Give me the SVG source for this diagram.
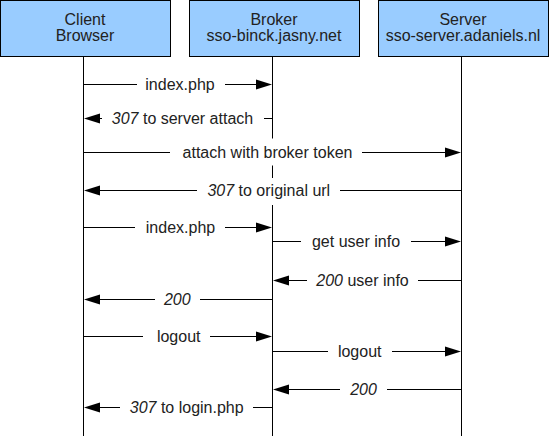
<svg xmlns="http://www.w3.org/2000/svg" width="549" height="436" viewBox="0 0 549 436">
<style>
.box{fill:#99ccff;stroke:#000;stroke-width:1}
.life{stroke:#000;stroke-width:1;fill:none}
.msg{stroke:#000;stroke-width:1;fill:none}
.bg{fill:#fff}
.head{font-family:"Liberation Sans",Arial,sans-serif;font-size:16px;fill:#222;text-anchor:middle}
.lbl{font-family:"Liberation Sans",Arial,sans-serif;font-size:16px;fill:#222;text-anchor:middle}
.num{font-style:italic}
.ah{fill:#000}
</style>
<rect width="549" height="436" fill="#fff"/>
<g id="lifelines">
<line class="life" x1="83.5" y1="57" x2="83.5" y2="436"/>
<line class="life" x1="272.5" y1="57" x2="272.5" y2="436"/>
<line class="life" x1="461.5" y1="57" x2="461.5" y2="436"/>
</g>
<g id="client">
<rect class="box" x="0.5" y="0.5" width="170" height="56"/>
<text class="head" x="85" y="25">Client</text>
<text class="head" x="85" y="41">Browser</text>
</g>
<g id="broker">
<rect class="box" x="189.5" y="0.5" width="170" height="56"/>
<text class="head" x="274" y="25">Broker</text>
<text class="head" x="274" y="41">sso-binck.jasny.net</text>
</g>
<g id="server">
<rect class="box" x="378.5" y="0.5" width="170" height="56"/>
<text class="head" x="463" y="25">Server</text>
<text class="head" x="463" y="41">sso-server.adaniels.nl</text>
</g>
<g id="connectors">
<!-- 1 index.php C->B -->
<line class="msg" x1="83.5" y1="84.5" x2="257" y2="84.5"/>
<polygon class="ah" points="272,84.5 256,79.5 256,89.5"/>
<rect class="bg" x="137" y="71" width="88" height="27"/>
<text class="lbl" x="180" y="90">index.php</text>
<!-- 2 307 to server attach B->C -->
<line class="msg" x1="99" y1="118.5" x2="272.5" y2="118.5"/>
<polygon class="ah" points="84,118.5 100,113.5 100,123.5"/>
<rect class="bg" x="102" y="105" width="162" height="27"/>
<text class="lbl" x="182.5" y="124"><tspan class="num">307</tspan> to server attach</text>
<!-- 3 attach with broker token C->S -->
<line class="msg" x1="83.5" y1="152.5" x2="446" y2="152.5"/>
<polygon class="ah" points="461,152.5 445,147.5 445,157.5"/>
<rect class="bg" x="170" y="138.5" width="192" height="27"/>
<text class="lbl" x="267.5" y="158">attach with broker token</text>
<!-- 4 307 to original url S->C -->
<line class="msg" x1="99" y1="190.5" x2="461.5" y2="190.5"/>
<polygon class="ah" points="84,190.5 100,185.5 100,195.5"/>
<rect class="bg" x="197" y="178" width="143" height="27"/>
<text class="lbl" x="268.8" y="196"><tspan class="num">307</tspan> to original url</text>
<!-- 5 index.php C->B -->
<line class="msg" x1="83.5" y1="227.5" x2="257" y2="227.5"/>
<polygon class="ah" points="272,227.5 256,222.5 256,232.5"/>
<rect class="bg" x="135" y="214" width="90" height="27"/>
<text class="lbl" x="180.5" y="233">index.php</text>
<!-- 6 get user info B->S -->
<line class="msg" x1="272.5" y1="241.5" x2="446" y2="241.5"/>
<polygon class="ah" points="461,241.5 445,236.5 445,246.5"/>
<rect class="bg" x="301" y="228" width="110" height="27"/>
<text class="lbl" x="356" y="247">get user info</text>
<!-- 7 200 user info S->B -->
<line class="msg" x1="288" y1="280.5" x2="461.5" y2="280.5"/>
<polygon class="ah" points="273,280.5 289,275.5 289,285.5"/>
<rect class="bg" x="307" y="267" width="111" height="27"/>
<text class="lbl" x="362.5" y="286"><tspan class="num">200</tspan> user info</text>
<!-- 8 200 B->C -->
<line class="msg" x1="99" y1="299.5" x2="272.5" y2="299.5"/>
<polygon class="ah" points="84,299.5 100,294.5 100,304.5"/>
<rect class="bg" x="155" y="286" width="45" height="27"/>
<text class="lbl num" x="177.3" y="305">200</text>
<!-- 9 logout C->B -->
<line class="msg" x1="83.5" y1="336.5" x2="257" y2="336.5"/>
<polygon class="ah" points="272,336.5 256,331.5 256,341.5"/>
<rect class="bg" x="143" y="323" width="67" height="27"/>
<text class="lbl" x="178.7" y="342">logout</text>
<!-- 10 logout B->S -->
<line class="msg" x1="272.5" y1="351.5" x2="446" y2="351.5"/>
<polygon class="ah" points="461,351.5 445,346.5 445,356.5"/>
<rect class="bg" x="328" y="338" width="64" height="27"/>
<text class="lbl" x="359.7" y="357">logout</text>
<!-- 11 200 S->B -->
<line class="msg" x1="288" y1="389.5" x2="461.5" y2="389.5"/>
<polygon class="ah" points="273,389.5 289,384.5 289,394.5"/>
<rect class="bg" x="340" y="376" width="47" height="27"/>
<text class="lbl num" x="363.5" y="395">200</text>
<!-- 12 307 to login.php B->C -->
<line class="msg" x1="99" y1="407.5" x2="272.5" y2="407.5"/>
<polygon class="ah" points="84,407.5 100,402.5 100,412.5"/>
<rect class="bg" x="120" y="394" width="133" height="27"/>
<text class="lbl" x="186.7" y="413"><tspan class="num">307</tspan> to login.php</text>
</g>
</svg>
